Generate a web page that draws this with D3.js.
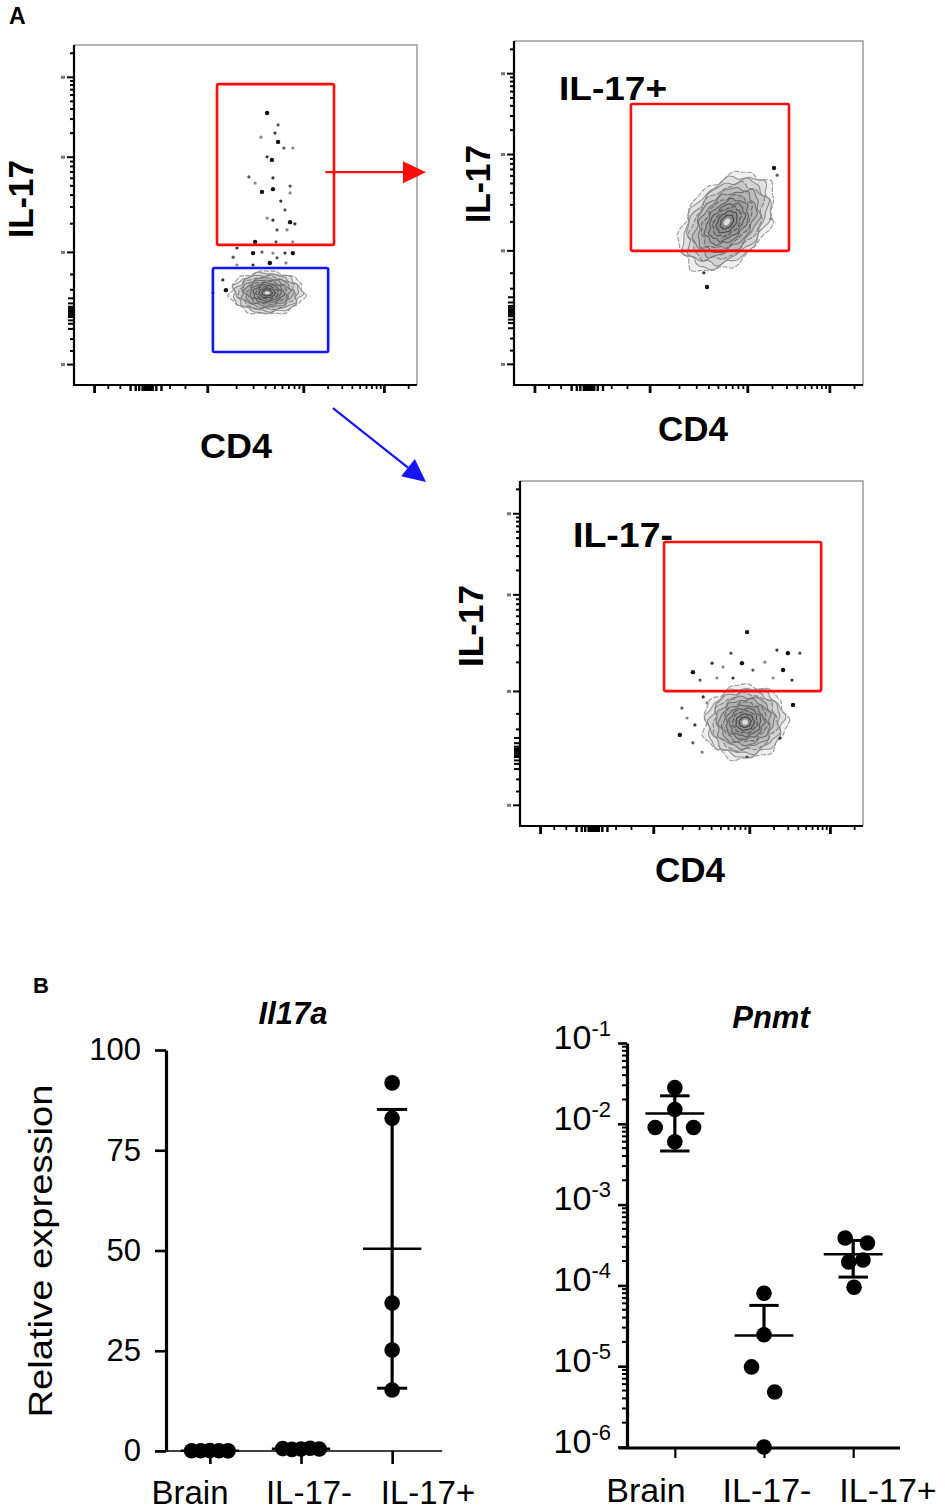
<!DOCTYPE html>
<html><head><meta charset="utf-8">
<script src="https://cdn.jsdelivr.net/npm/d3@7"></script>
<style>
body{margin:0;background:#fff}
svg{display:block}
text{font-family:"Liberation Sans",Arial,Helvetica,sans-serif;fill:#000}
</style>
</head><body>
<svg id="fig" width="945" height="1512"></svg>
<script>
// ================= DATA =================
// Panel B categories
const categories = ["Brain", "IL-17-", "IL-17+"];
// Il17a relative expression (linear axis)
const il17aBrain = [0.05, 0.08, 0.1, 0.06, 0.04];
const il17aNeg   = [0.6, 0.4, 0.5, 0.7, 0.5];
const il17aPos   = [91.8, 83, 36.9, 25.2, 15.2];
const il17aTicks = [0, 25, 50, 75, 100];
// Pnmt relative expression (log axis)
const pnmtBrain = [0.028, 0.015, 0.009, 0.009, 0.006];
const pnmtNeg   = [8.0e-5, 2.45e-5, 9.8e-6, 4.8e-6, 1.0e-6];
const pnmtPos   = [3.86e-4, 3.35e-4, 2.06e-4, 1.95e-4, 9.5e-5];
const pnmtTickExps = [-6, -5, -4, -3, -2, -1];
// horizontal scatter of each point inside its column (fraction of column step)
const il17aSpread = [[-0.2, -0.1, 0, 0.1, 0.2], [-0.2, -0.1, 0, 0.1, 0.2], [0, 0, 0, 0, 0]];
const pnmtSpread  = [[0, 0, -0.22, 0.21, 0], [0, 0, -0.14, 0.12, 0], [-0.09, 0.16, 0.11, -0.05, 0.01]];

// Panel A flow cytometry (arbitrary 0-100 display units on CD4 (x) and IL-17 (y))
const flowMajorTicks = [6, 39, 67, 90.5];
const flowZeroTicks = [16.5, 18, 19, 20, 20.5, 21, 21.5, 22, 22.5, 23, 24, 25.5];
const flowLinearTicks = [10, 13.5, 28, 32.5];
// gates: [x0, x1, y0, y1]
const gateP1Pos = [41.7, 75.8, 41.2, 88.5];
const gateP1Neg = [40.5, 74.1, 9.7, 34.4];
const gateP2 = [33.5, 78.8, 39.0, 81.7];
const gateP3 = [42.0, 87.8, 39.1, 82.3];
// main population: [cx, cy, rx, ry, tilt(deg)]
const clusterP1 = [56.3, 27.1, 10.8, 6.3, 0];
const clusterP2 = [61.0, 47.4, 16.3, 11.0, -48];
const clusterP3 = [65.6, 30.1, 12.2, 10.7, -10];
// individual events outside the dense cores
const eventsP1 = [[56.3,80.0],[59.5,76.5],[54.5,72.9],[58.6,74.1],[59.5,71.5],[61.2,69.7],[63.8,69.7],[56.3,67.1],
  [57.7,66.2],[51.0,61.2],[52.8,59.4],[58.0,60.9],[58.0,57.6],[63.0,58.5],[63.0,56.5],[60.3,54.1],[54.8,56.8],
  [61.5,51.5],[56.3,49.1],[58.0,48.5],[63.0,47.9],[59.2,45.6],[62.1,45.6],[64.4,47.4],[52.8,42.1],[58.9,42.1],
  [63.8,42.1],[47.5,40.3],[52.2,38.8],[54.8,39.1],[58.0,38.8],[61.5,38.8],[63.8,38.8],[46.4,37.6],[47.5,35.3],
  [52.2,35.3],[57.1,35.9],[59.2,37.4],[61.8,35.9],[43.4,30.9],[44.3,27.9],[40.5,27.1]];
const eventsP2 = [[74.5,63.1],[75.4,61.0],[73.6,48.3],[54.4,32.6],[55.3,28.5]];
const eventsP3 = [[66.2,56.2],[61.5,50.1],[59.2,46.1],[56.0,47.2],[50.4,44.6],[52.5,42.3],[57.4,42.9],[62.1,42.9],
  [64.7,47.2],[67.9,45.2],[71.4,47.5],[74.9,51.0],[78.1,50.1],[81.6,50.1],[73.8,42.9],[79.3,42.3],[76.7,45.2],
  [47.2,34.2],[48.7,31.3],[51.0,29.3],[46.6,26.4],[50.4,24.1],[53.1,21.4],[75.8,25.5],[79.6,35.1],[66.2,20.0],
  [54.5,35.7],[53.4,37.4]];

// ================= LAYOUT =================
const svg = d3.select("#fig");
const FONT = "Liberation Sans, Arial, Helvetica, sans-serif";
const P1 = {left: 74, top: 45, w: 343, h: 340};
const P2 = {left: 514, top: 41, w: 349, h: 344};
const P3 = {left: 520, top: 481, w: 343, h: 345};

function flowMinorTicks() {
  const out = flowLinearTicks.slice();
  const dec = [[flowMajorTicks[1], flowMajorTicks[2]], [flowMajorTicks[2], flowMajorTicks[3]],
               [flowMajorTicks[3], flowMajorTicks[3] + (flowMajorTicks[3] - flowMajorTicks[2])]];
  dec.forEach(([a, b]) => { for (let k = 2; k <= 9; k++) { const v = a + (b - a) * Math.log10(k); if (v < 99.5) out.push(v); } });
  return out;
}

function drawCluster(g, x, y, c) {
  const [cx, cy, rx, ry, ang] = c;
  const px = x(cx), py = y(cy);
  const sx = x(rx) - x(0), sy = y(0) - y(ry);
  const n = 12;
  const line = d3.line().curve(d3.curveCardinalClosed.tension(0.3));
  for (let i = 0; i < n; i++) {
    const f = 1 - 0.86 * i / (n - 1);
    const pts = d3.range(48).map(j => {
      const t = j / 48 * 2 * Math.PI;
      const wob = 1 + 0.05 * Math.sin(7 * t + i * 1.9) + 0.035 * Math.sin(13 * t + i * 0.7);
      return [sx * f * wob * Math.cos(t), sy * f * wob * Math.sin(t)];
    });
    g.append("path").attr("d", line(pts))
      .attr("transform", `translate(${px},${py}) rotate(${ang})`)
      .attr("fill", "rgba(100,100,100,0.10)")
      .attr("stroke", d3.interpolateRgb("#9a9a9a", "#444")(i / (n - 1)))
      .attr("stroke-width", 1.1)
      .attr("stroke-dasharray", i % 3 === 0 ? "5,1.5" : null);
  }
  g.append("ellipse").attr("cx", px).attr("cy", py).attr("rx", sx * 0.07).attr("ry", sy * 0.07)
    .attr("transform", `rotate(${ang},${px},${py})`).attr("fill", "#fff").attr("opacity", 0.7);
}

function flowPlot(P, events, cluster, gates) {
  const x = d3.scaleLinear().domain([0, 100]).range([P.left, P.left + P.w]);
  const y = d3.scaleLinear().domain([0, 100]).range([P.top + P.h, P.top]);
  const g = svg.append("g");
  // light top/right frame
  g.append("path").attr("d", `M${x(0)},${y(100)}H${x(100)}V${y(0)}`)
    .attr("fill", "none").attr("stroke", "#9c9c9c").attr("stroke-width", 1.5);
  drawCluster(g, x, y, cluster);
  g.selectAll("circle.ev").data(events).join("circle").attr("class", "ev")
    .attr("cx", d => x(d[0])).attr("cy", d => y(d[1]))
    .attr("r", (d, i) => i % 4 === 0 ? 2.2 : 1.6)
    .attr("fill", (d, i) => ["#111", "#555", "#888", "#333"][i % 4]);
  gates.forEach(([gt, col]) => {
    g.append("rect").attr("x", x(gt[0])).attr("y", y(gt[3]))
      .attr("width", x(gt[1]) - x(gt[0])).attr("height", y(gt[2]) - y(gt[3]))
      .attr("rx", 1.5).attr("fill", "none").attr("stroke", col).attr("stroke-width", 2.6);
  });
  // axes lines
  g.append("path").attr("d", `M${x(0)},${y(100)}V${y(0)}H${x(100)}`)
    .attr("fill", "none").attr("stroke", "#000").attr("stroke-width", 2.2);
  const minor = flowMinorTicks();
  // y ticks (left)
  const yt = (v, len, sw) => g.append("line").attr("x1", x(0) - len).attr("x2", x(0))
    .attr("y1", y(v)).attr("y2", y(v)).attr("stroke", "#000").attr("stroke-width", sw);
  flowMajorTicks.forEach(v => { yt(v, 7, 2); g.append("rect").attr("x", x(0) - 13).attr("y", y(v) - 1.5).attr("width", 4).attr("height", 3).attr("fill", "#777"); });
  minor.forEach(v => yt(v, 4, 2));
  flowZeroTicks.forEach(v => yt(v, 6, 2));
  // x ticks (bottom)
  const xt = (v, len, sw) => g.append("line").attr("y1", y(0)).attr("y2", y(0) + len)
    .attr("x1", x(v)).attr("x2", x(v)).attr("stroke", "#000").attr("stroke-width", sw);
  flowMajorTicks.forEach(v => xt(v, 8, 2.8));
  minor.forEach(v => xt(v, 4, 1.8));
  flowZeroTicks.forEach(v => xt(v, 6, 2.4));
  return {x, y};
}

function boldLabel(txt, xPos, yPos, len, rotate, size) {
  const t = svg.append("text").text(txt).attr("font-family", FONT).attr("font-weight", "bold")
    .attr("font-size", size || 35).attr("text-anchor", "middle")
    .attr("textLength", len).attr("lengthAdjust", "spacingAndGlyphs");
  if (rotate) t.attr("transform", `translate(${xPos},${yPos}) rotate(-90)`);
  else t.attr("x", xPos).attr("y", yPos);
  return t;
}

// ---------- Panel A ----------
svg.append("text").text("A").attr("x", 9).attr("y", 24).attr("font-weight", "bold").attr("font-size", 23).attr("font-family", FONT);
const s1 = flowPlot(P1, eventsP1, clusterP1, [[gateP1Pos, "#ff0d0d"], [gateP1Neg, "#1414ff"]]);
const s2 = flowPlot(P2, eventsP2, clusterP2, [[gateP2, "#ff0d0d"]]);
const s3 = flowPlot(P3, eventsP3, clusterP3, [[gateP3, "#ff0d0d"]]);

boldLabel("IL-17", 33, 199, 78, true);
boldLabel("CD4", 236, 458, 72, false);
boldLabel("IL-17", 490, 184, 78, true);
boldLabel("CD4", 693, 441, 70, false);
boldLabel("IL-17", 483, 626, 82, true);
boldLabel("CD4", 690, 882, 70, false);
svg.append("text").text("IL-17+").attr("x", 559).attr("y", 100).attr("font-family", FONT).attr("font-weight", "bold")
  .attr("font-size", 34).attr("textLength", 108).attr("lengthAdjust", "spacingAndGlyphs");
svg.append("text").text("IL-17-").attr("x", 573).attr("y", 547).attr("font-family", FONT).attr("font-weight", "bold")
  .attr("font-size", 35).attr("textLength", 100).attr("lengthAdjust", "spacingAndGlyphs");

// arrows (annotation connecting gates to gated plots)
function arrow(x1, y1, x2, y2, col) {
  const ang = Math.atan2(y2 - y1, x2 - x1), L = 23, W = 11;
  const bx = x2 - L * Math.cos(ang), by = y2 - L * Math.sin(ang);
  svg.append("line").attr("x1", x1).attr("y1", y1).attr("x2", bx).attr("y2", by)
    .attr("stroke", col).attr("stroke-width", 2.2);
  svg.append("path").attr("d", `M${x2},${y2}L${bx - W * Math.sin(ang)},${by + W * Math.cos(ang)}L${bx + W * Math.sin(ang)},${by - W * Math.cos(ang)}Z`)
    .attr("fill", col);
}
arrow(s1.x(73.3), s1.y(62.6), P2.left - 88, s1.y(62.6), "#ff0d0d");
arrow(s1.x(75.5), s1.y(-6.8), P3.left - 94, P3.top + 1, "#1414ff");

// ---------- Panel B ----------
svg.append("text").text("B").attr("x", 33).attr("y", 993).attr("font-weight", "bold").attr("font-size", 22).attr("font-family", FONT);

function meanSd(arr) { return [d3.mean(arr), d3.deviation(arr)]; }

// ---- Left: Il17a ----
const yA = d3.scaleLinear().domain([0, 100]).range([1451, 1050]);
const xA = d3.scalePoint().domain(categories).range([157, 445]).padding(0.58);
const labA = d3.scalePoint().domain(categories).range([190, 428]);
const stepA = xA.step();
const axX = 166;
svg.append("text").text("Il17a").attr("x", 293).attr("y", 1024).attr("text-anchor", "middle")
  .attr("font-family", FONT).attr("font-weight", "bold").attr("font-style", "italic").attr("font-size", 31);
svg.append("text").text("Relative expression").attr("transform", `translate(52,1251) rotate(-90)`)
  .attr("text-anchor", "middle").attr("font-family", FONT).attr("font-size", 33)
  .attr("textLength", 333).attr("lengthAdjust", "spacingAndGlyphs");
// x baseline (thin) and category ticks
svg.append("line").attr("x1", axX - 11).attr("x2", xA("IL-17+") + 50).attr("y1", yA(0)).attr("y2", yA(0))
  .attr("stroke", "#000").attr("stroke-width", 1.6);
const gAx = svg.append("g").attr("transform", `translate(0,${yA(0)})`)
  .call(d3.axisBottom(xA).tickSize(13).tickSizeOuter(0).tickFormat(""));
gAx.select(".domain").remove();
gAx.selectAll(".tick line").attr("stroke-width", 2.6);
svg.append("g").selectAll("text").data(categories).join("text")
  .attr("x", d => labA(d)).attr("y", 1504).attr("text-anchor", "middle")
  .attr("font-family", FONT).attr("font-size", 33).text(d => d);
// y axis
const gAy = svg.append("g").attr("transform", `translate(${axX},0)`)
  .call(d3.axisLeft(yA).tickValues(il17aTicks).tickSize(11).tickSizeOuter(0).tickPadding(14));
gAy.attr("font-family", FONT).attr("font-size", 31);
gAy.select(".domain").attr("stroke-width", 3.2);
gAy.selectAll(".tick line").attr("stroke-width", 2.6);
gAy.selectAll(".tick text").attr("fill", "#000");

[il17aBrain, il17aNeg, il17aPos].forEach((vals, gi) => {
  const cx = xA(categories[gi]);
  const [m, sd] = meanSd(vals);
  const lo = Math.max(0, m - sd), hi = m + sd;
  const g = svg.append("g").attr("stroke", "#000");
  g.append("line").attr("x1", cx).attr("x2", cx).attr("y1", yA(hi)).attr("y2", yA(lo)).attr("stroke-width", 3.2);
  [hi, lo].forEach(v => g.append("line").attr("x1", cx - 0.165 * stepA).attr("x2", cx + 0.165 * stepA)
    .attr("y1", yA(v)).attr("y2", yA(v)).attr("stroke-width", 3));
  g.append("line").attr("x1", cx - 0.32 * stepA).attr("x2", cx + 0.32 * stepA)
    .attr("y1", yA(m)).attr("y2", yA(m)).attr("stroke-width", 2.5);
  svg.append("g").selectAll("circle").data(vals).join("circle")
    .attr("cx", (d, i) => cx + il17aSpread[gi][i] * stepA).attr("cy", d => yA(d)).attr("r", 7.8).attr("fill", "#000");
});

// ---- Right: Pnmt ----
const yB = d3.scaleLog().domain([1e-6, 1e-1]).range([1447, 1043]);
const xB = d3.scalePoint().domain(categories).range([624, 904]).padding(0.57);
const labB = d3.scalePoint().domain(categories).range([646, 888]);
const stepB = xB.step();
const bxX = 627;
svg.append("text").text("Pnmt").attr("x", 771).attr("y", 1028).attr("text-anchor", "middle")
  .attr("font-family", FONT).attr("font-weight", "bold").attr("font-style", "italic").attr("font-size", 31);
// x axis
svg.append("line").attr("x1", bxX - 8).attr("x2", 900).attr("y1", yB(1e-6) + 1).attr("y2", yB(1e-6) + 1)
  .attr("stroke", "#000").attr("stroke-width", 3);
const gBx = svg.append("g").attr("transform", `translate(0,${yB(1e-6) + 1})`)
  .call(d3.axisBottom(xB).tickSize(10).tickSizeOuter(0).tickFormat(""));
gBx.select(".domain").remove();
gBx.selectAll(".tick line").attr("stroke-width", 2.2);
svg.append("g").selectAll("text").data(categories).join("text")
  .attr("x", d => labB(d)).attr("y", 1502).attr("text-anchor", "middle")
  .attr("font-family", FONT).attr("font-size", 34).text(d => d);
// y axis
const majors = pnmtTickExps.map(e => Math.pow(10, e));
const gBy = svg.append("g").attr("transform", `translate(${bxX},0)`)
  .call(d3.axisLeft(yB).tickValues(majors).tickSize(9).tickSizeOuter(0).tickFormat(""));
gBy.select(".domain").attr("stroke-width", 3.2);
gBy.selectAll(".tick line").attr("stroke-width", 2.6);
const minorsB = [];
pnmtTickExps.slice(0, -1).forEach(e => { for (let k = 2; k <= 9; k++) minorsB.push(k * Math.pow(10, e)); });
svg.append("g").selectAll("line").data(minorsB).join("line")
  .attr("x1", bxX - 5).attr("x2", bxX).attr("y1", d => yB(d)).attr("y2", d => yB(d))
  .attr("stroke", "#000").attr("stroke-width", 2);
pnmtTickExps.forEach(e => {
  const t = svg.append("text").attr("x", 611).attr("y", yB(Math.pow(10, e))).attr("dy", "0.36em")
    .attr("text-anchor", "end").attr("font-family", FONT);
  t.append("tspan").text("10").attr("font-size", 34);
  t.append("tspan").text(String(e)).attr("font-size", 22).attr("dy", -13);
});

[pnmtBrain, pnmtNeg, pnmtPos].forEach((vals, gi) => {
  const cx = xB(categories[gi]);
  const [m, sd] = meanSd(vals);
  const hi = m + sd, lo = m - sd;
  const g = svg.append("g").attr("stroke", "#000");
  g.append("line").attr("x1", cx).attr("x2", cx).attr("y1", yB(hi)).attr("y2", lo > 0 ? yB(lo) : yB(m)).attr("stroke-width", 3.2);
  g.append("line").attr("x1", cx - 0.165 * stepB).attr("x2", cx + 0.165 * stepB)
    .attr("y1", yB(hi)).attr("y2", yB(hi)).attr("stroke-width", 3);
  if (lo > 0) g.append("line").attr("x1", cx - 0.165 * stepB).attr("x2", cx + 0.165 * stepB)
    .attr("y1", yB(lo)).attr("y2", yB(lo)).attr("stroke-width", 3);
  g.append("line").attr("x1", cx - 0.33 * stepB).attr("x2", cx + 0.33 * stepB)
    .attr("y1", yB(m)).attr("y2", yB(m)).attr("stroke-width", 2.5);
  svg.append("g").selectAll("circle").data(vals).join("circle")
    .attr("cx", (d, i) => cx + pnmtSpread[gi][i] * stepB).attr("cy", d => yB(d)).attr("r", 7.8).attr("fill", "#000");
});
</script>
</body></html>
